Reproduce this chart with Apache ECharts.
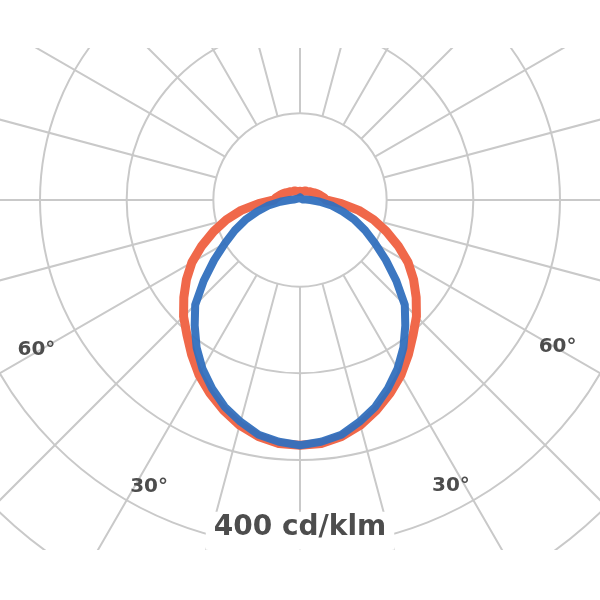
<!DOCTYPE html>
<html>
<head>
<meta charset="utf-8">
<script src="https://cdn.jsdelivr.net/npm/echarts@6/dist/echarts.min.js"></script>
<style>
html,body{margin:0;padding:0;background:#ffffff;}
#chart{width:600px;height:600px;}
</style>
</head>
<body>
<div id="chart"></div>
<script>
// ---- data ----
const gammaAngles = [0,5,10,15,20,25,30,35,40,45,50,55,60,65,70,75,80,85,90,95,100,105,110,115,120,125,130,135,140,145,150,155,160,165,170,175,180];
// C0 - C180 plane (red), cd/klm
const intensityC0C180 = [283,282,277,269,258,246,233,218,203,190,175,160,144,125,106,88,69,48,30,28,25,23,21,19,17,16,15,14,13,12,12,11,11,10,10,10,10];
// C90 - C270 plane (blue), cd/klm
const intensityC90C270 = [283,280,275,265,254,240,225,208,189,171,145,121,100,83,67,51,37,23,12,7,3,3,3,3,3,3,3,3,3,3,3,3,3,3,3,3,3];
const ringMax = 600;
const ringStep = 100;
const angleTickValues = [30, 60];
const angleTickLabels = ['30°', '60°'];
const scaleLabelValue = 400;
const scaleUnit = 'cd/klm';

// one closed loop: left half (gamma 180 -> 0), right half (360-gamma)
function planeLoop(vals) {
  const pts = [];
  for (let i = gammaAngles.length - 1; i >= 0; i--) pts.push([vals[i], gammaAngles[i]]);
  for (let i = 1; i < gammaAngles.length; i++) pts.push([vals[i], 360 - gammaAngles[i]]);
  return pts;
}

const gridColor = '#c9c9c9';
const CX = 300, CY = 200, R = 520;
const innerR = R * ringStep / ringMax;

function angleLabel(v) {
  for (let i = 0; i < angleTickValues.length; i++) {
    const t = angleTickValues[i];
    if (v === t) return '{t' + t + '|' + angleTickLabels[i] + '}';
    if (v === 360 - t) return '{t' + t + 'r|' + angleTickLabels[i] + '}';
  }
  return '';
}

const labelFont = {fontFamily: 'DejaVu Sans', fontWeight: 'bold', fontSize: 20, color: '#4d4d4d', lineHeight: 20};

const chart = echarts.init(document.getElementById('chart'), null, {renderer: 'canvas'});
chart.setOption({
  backgroundColor: '#ffffff',
  animation: false,
  polar: [
    {center: [CX, CY], radius: R},
    {center: [CX, CY], radius: [innerR, R]},
    {center: [CX, CY], radius: 264}
  ],
  angleAxis: [
    {polarIndex: 0, type: 'value', min: 0, max: 360, startAngle: 270, clockwise: true,
     axisLine: {show: false}, axisTick: {show: false}, axisLabel: {show: false}, splitLine: {show: false}},
    {polarIndex: 1, type: 'value', min: 0, max: 360, interval: 15, startAngle: 270, clockwise: true,
     axisLine: {show: false}, axisTick: {show: false}, axisLabel: {show: false},
     splitLine: {show: true, lineStyle: {color: gridColor, width: 2}}},
    {polarIndex: 2, type: 'value', min: 0, max: 360, interval: 30, startAngle: 270, clockwise: true,
     axisLine: {show: false}, axisTick: {show: false}, splitLine: {show: false},
     axisLabel: {show: true, margin: 0, formatter: angleLabel,
       rich: {
         t30: Object.assign({padding: [97, 0, 0, 0]}, labelFont),
         t30r: Object.assign({padding: [95, 0, 0, 0]}, labelFont),
         t60: Object.assign({padding: [16, 16, 0, 0]}, labelFont),
         t60r: Object.assign({padding: [10, 0, 0, 10]}, labelFont)
       }}}
  ],
  radiusAxis: [
    {polarIndex: 0, type: 'value', min: 0, max: ringMax, interval: ringStep, z: 1,
     axisLine: {show: false}, axisTick: {show: false},
     splitLine: {show: true, lineStyle: {color: gridColor, width: 2}},
     axisLabel: {show: true, margin: 0, align: 'center', verticalAlign: 'bottom',
       formatter: function (v) { return v === scaleLabelValue ? '{s|' + v + ' ' + scaleUnit + '}' : ''; },
       rich: {s: {fontFamily: 'DejaVu Sans', fontWeight: 'bold', fontSize: 28, lineHeight: 32, color: '#4d4d4d',
                  backgroundColor: '#ffffff', padding: [2, 8, 8, 8]}}}},
    {polarIndex: 1, type: 'value', min: 0, max: ringMax, show: false},
    {polarIndex: 2, type: 'value', min: 0, max: ringMax, show: false}
  ],
  series: [
    {type: 'line', coordinateSystem: 'polar', polarIndex: 0, data: planeLoop(intensityC0C180),
     showSymbol: false, z: 3, lineStyle: {color: '#f0684a', width: 9, cap: 'round', join: 'round'}},
    {type: 'line', coordinateSystem: 'polar', polarIndex: 0, data: planeLoop(intensityC90C270),
     showSymbol: false, z: 4, lineStyle: {color: '#3270be', width: 8, opacity: 0.95, cap: 'round', join: 'round'}}
  ],
  graphic: [
    {type: 'rect', z: 100, shape: {x: 0, y: 0, width: 600, height: 48}, style: {fill: '#ffffff'}},
    {type: 'rect', z: 100, shape: {x: 0, y: 550, width: 600, height: 50}, style: {fill: '#ffffff'}}
  ]
});
</script>
</body>
</html>
